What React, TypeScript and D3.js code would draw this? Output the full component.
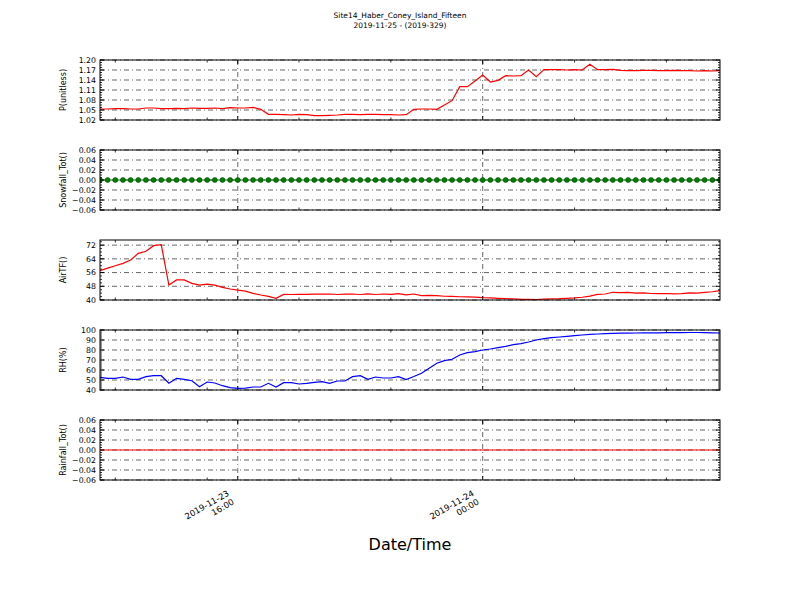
import React from 'react';
import * as d3 from 'd3';

// ---------- DATA ----------
const TITLE_LINES = ['Site14_Haber_Coney_Island_Fifteen', '2019-11-25 - (2019-329)'];
const X_LABEL = 'Date/Time';
const START_UTC = Date.UTC(2019, 10, 23, 11, 30);
const STEP_MINUTES = 15;

const pValues = [
  1.053, 1.053, 1.054, 1.054, 1.053, 1.053, 1.056, 1.056, 1.054, 1.054,
  1.055, 1.054, 1.056, 1.055, 1.055, 1.056, 1.054, 1.057, 1.056, 1.056,
  1.058, 1.052, 1.037, 1.037, 1.036, 1.035, 1.037, 1.036, 1.033, 1.033,
  1.034, 1.035, 1.037, 1.037, 1.036, 1.037, 1.037, 1.036, 1.036, 1.035,
  1.036, 1.052, 1.053, 1.053, 1.052, 1.065, 1.078, 1.120, 1.120, 1.137,
  1.155, 1.134, 1.139, 1.153, 1.152, 1.153, 1.170, 1.150, 1.171, 1.171,
  1.171, 1.170, 1.171, 1.170, 1.187, 1.171, 1.171, 1.172, 1.169, 1.168,
  1.168, 1.169, 1.169, 1.168, 1.168, 1.169, 1.168, 1.168, 1.167, 1.168,
  1.167, 1.168,
];

const snowfallValues = [
  0, 0, 0, 0, 0, 0, 0, 0, 0, 0,
  0, 0, 0, 0, 0, 0, 0, 0, 0, 0,
  0, 0, 0, 0, 0, 0, 0, 0, 0, 0,
  0, 0, 0, 0, 0, 0, 0, 0, 0, 0,
  0, 0, 0, 0, 0, 0, 0, 0, 0, 0,
  0, 0, 0, 0, 0, 0, 0, 0, 0, 0,
  0, 0, 0, 0, 0, 0, 0, 0, 0, 0,
  0, 0, 0, 0, 0, 0, 0, 0, 0, 0,
  0, 0,
];

const airValues = [
  57.1, 58.6, 60.0, 61.4, 63.3, 67.2, 68.4, 71.7, 72.3, 48.7,
  51.7, 51.7, 49.7, 48.7, 49.3, 48.7, 47.4, 46.4, 45.8, 45.2,
  43.9, 42.9, 42.1, 41.0, 43.3, 43.2, 43.3, 43.3, 43.4, 43.4,
  43.5, 43.2, 43.4, 43.5, 43.2, 43.6, 43.2, 43.5, 43.3, 43.7,
  43.0, 43.5, 42.6, 42.7, 42.5, 42.2, 42.1, 41.9, 41.8, 41.7,
  41.4, 41.2, 41.0, 40.8, 40.6, 40.4, 40.4, 40.3, 40.5, 40.7,
  40.8, 41.0, 41.2, 41.6, 42.3, 43.3, 43.5, 44.5, 44.3, 44.4,
  44.0, 44.1, 43.8, 43.7, 43.8, 43.6, 43.7, 44.1, 44.0, 44.5,
  44.8, 45.5,
];

const rhValues = [
  52.7, 51.7, 51.7, 53.0, 50.7, 50.7, 53.3, 54.3, 54.3, 46.7,
  51.7, 50.7, 49.3, 43.3, 48.0, 47.0, 44.3, 42.3, 41.7, 41.9,
  43.0, 43.0, 46.7, 43.0, 47.3, 47.3, 46.0, 46.7, 47.7, 48.3,
  46.7, 49.0, 49.0, 53.3, 54.3, 50.7, 53.0, 52.0, 52.0, 53.3,
  50.5, 53.5, 56.7, 61.7, 66.7, 69.3, 70.7, 75.0, 77.3, 78.3,
  80.0, 81.0, 82.3, 83.7, 85.3, 86.3, 88.0, 90.0, 91.3, 92.3,
  93.0, 93.7, 94.3, 95.0, 95.7, 96.0, 96.3, 96.7, 96.8, 96.9,
  97.0, 97.1, 97.1, 97.2, 97.3, 97.4, 97.4, 97.5, 97.5, 97.4,
  97.2, 97.0,
];

const rainfallValues = [
  0, 0, 0, 0, 0, 0, 0, 0, 0, 0,
  0, 0, 0, 0, 0, 0, 0, 0, 0, 0,
  0, 0, 0, 0, 0, 0, 0, 0, 0, 0,
  0, 0, 0, 0, 0, 0, 0, 0, 0, 0,
  0, 0, 0, 0, 0, 0, 0, 0, 0, 0,
  0, 0, 0, 0, 0, 0, 0, 0, 0, 0,
  0, 0, 0, 0, 0, 0, 0, 0, 0, 0,
  0, 0, 0, 0, 0, 0, 0, 0, 0, 0,
  0, 0,
];

const pTicks = [1.02, 1.05, 1.08, 1.11, 1.14, 1.17, 1.2];
const pTickLabels = ['1.02', '1.05', '1.08', '1.11', '1.14', '1.17', '1.20'];
const zeroTicks = [-0.06, -0.04, -0.02, 0, 0.02, 0.04, 0.06];
const zeroTickLabels = ['\u22120.06', '\u22120.04', '\u22120.02', '0.00', '0.02', '0.04', '0.06'];
const airTicks = [40, 48, 56, 64, 72];
const airTickLabels = ['40', '48', '56', '64', '72'];
const rhTicks = [40, 50, 60, 70, 80, 90, 100];
const rhTickLabels = ['40', '50', '60', '70', '80', '90', '100'];

const xMajorTicks = [Date.UTC(2019, 10, 23, 16, 0), Date.UTC(2019, 10, 24, 0, 0)];
const xMajorLabels = [['2019-11-23', '16:00'], ['2019-11-24', '00:00']];
const xMinorTicks = [
  Date.UTC(2019, 10, 23, 12), Date.UTC(2019, 10, 23, 15), Date.UTC(2019, 10, 23, 18),
  Date.UTC(2019, 10, 23, 21), Date.UTC(2019, 10, 24, 3), Date.UTC(2019, 10, 24, 6),
];

// ---------- LAYOUT ----------
const FONT = 'DejaVu Sans, sans-serif';
const X0 = 100;
const X1 = 720;
const PANEL_H = 60;
const GRID_DASH = '5,3,1,3';

const panels = [
  { label: 'P(unitless)', top: 60, domain: [1.02, 1.2], ticks: pTicks, labels: pTickLabels, values: pValues, color: '#ff0000', markers: false, minorDiv: 4 },
  { label: 'Snowfall_Tot()', top: 150, domain: [-0.06, 0.06], ticks: zeroTicks, labels: zeroTickLabels, values: snowfallValues, color: '#008000', markers: true, minorDiv: 4 },
  { label: 'AirTF()', top: 240, domain: [40, 75], ticks: airTicks, labels: airTickLabels, values: airValues, color: '#ff0000', markers: false, minorDiv: 4 },
  { label: 'RH(%)', top: 330, domain: [40, 100], ticks: rhTicks, labels: rhTickLabels, values: rhValues, color: '#0000ff', markers: false, minorDiv: 5 },
  { label: 'Rainfall_Tot()', top: 420, domain: [-0.06, 0.06], ticks: zeroTicks, labels: zeroTickLabels, values: rainfallValues, color: '#ff0000', markers: false, minorDiv: 4 },
];

const times = pValues.map((_, i) => new Date(START_UTC + i * STEP_MINUTES * 60000));

const x = d3.scaleUtc().domain([times[0], times[times.length - 1]]).range([X0, X1]);

function Panel({ p }: { p: typeof panels[number] }) {
  const y = d3.scaleLinear().domain(p.domain).range([p.top + PANEL_H, p.top]);
  const line = d3.line<number>().x((_, i) => x(times[i])).y((v) => y(v));
  const minor: number[] = [];
  for (let k = 0; k < p.ticks.length - 1; k++) {
    const a = p.ticks[k];
    const b = p.ticks[k + 1];
    for (let j = 1; j < p.minorDiv; j++) minor.push(a + ((b - a) * j) / p.minorDiv);
  }
  const dMax = p.domain[1];
  const last = p.ticks[p.ticks.length - 1];
  const st = (p.ticks[1] - p.ticks[0]) / p.minorDiv;
  for (let v = last + st; v <= dMax + 1e-9; v += st) minor.push(v);
  const top = p.top;
  const bot = p.top + PANEL_H;
  return (
    <g>
      <defs>
        <clipPath id={`clip-${top}`}>
          <rect x={X0} y={top} width={X1 - X0} height={PANEL_H} />
        </clipPath>
      </defs>
      {p.ticks.map((t) => (
        <line key={`gy${t}`} x1={X0} x2={X1} y1={y(t)} y2={y(t)} stroke="#000" strokeWidth={0.6} strokeDasharray={GRID_DASH} />
      ))}
      {xMajorTicks.map((t) => (
        <line key={`gx${t}`} x1={x(new Date(t))} x2={x(new Date(t))} y1={top} y2={bot} stroke="#000" strokeWidth={0.6} strokeDasharray={GRID_DASH} />
      ))}
      <g clipPath={`url(#clip-${top})`}>
        <path d={line(p.values) || ''} fill="none" stroke={p.color} strokeWidth={1.2} />
        {p.markers &&
          p.values.map((v, i) => (
            <circle key={i} cx={x(times[i])} cy={y(v)} r={2.5} fill={p.color} stroke="#003300" strokeWidth={0.5} />
          ))}
      </g>
      {p.ticks.map((t) => (
        <g key={`yt${t}`}>
          <line x1={X0} x2={X0 + 4} y1={y(t)} y2={y(t)} stroke="#000" strokeWidth={1} />
          <line x1={X1} x2={X1 - 4} y1={y(t)} y2={y(t)} stroke="#000" strokeWidth={1} />
        </g>
      ))}
      {minor.map((t, i) => (
        <g key={`ym${i}`}>
          <line x1={X0} x2={X0 + 2} y1={y(t)} y2={y(t)} stroke="#000" strokeWidth={0.8} />
          <line x1={X1} x2={X1 - 2} y1={y(t)} y2={y(t)} stroke="#000" strokeWidth={0.8} />
        </g>
      ))}
      {xMajorTicks.map((t) => (
        <g key={`xt${t}`}>
          <line x1={x(new Date(t))} x2={x(new Date(t))} y1={bot} y2={bot - 4} stroke="#000" strokeWidth={1} />
          <line x1={x(new Date(t))} x2={x(new Date(t))} y1={top} y2={top + 4} stroke="#000" strokeWidth={1} />
        </g>
      ))}
      {xMinorTicks.map((t) => (
        <g key={`xm${t}`}>
          <line x1={x(new Date(t))} x2={x(new Date(t))} y1={bot} y2={bot - 2.5} stroke="#000" strokeWidth={0.8} />
          <line x1={x(new Date(t))} x2={x(new Date(t))} y1={top} y2={top + 2.5} stroke="#000" strokeWidth={0.8} />
        </g>
      ))}
      <rect x={X0} y={top} width={X1 - X0} height={PANEL_H} fill="none" stroke="#000" strokeWidth={1} />
      {p.ticks.map((t, i) => (
        <text key={`yl${t}`} x={X0 - 4} y={y(t)} dy="0.35em" textAnchor="end" fontSize={7.8} fontFamily={FONT} fill="#000">
          {p.labels[i]}
        </text>
      ))}
      <text
        transform={`translate(66,${top + PANEL_H / 2}) rotate(-90)`}
        textAnchor="middle"
        fontSize={8}
        fontFamily={FONT}
        fill="#000"
      >
        {p.label}
      </text>
    </g>
  );
}

export default function App() {
  return (
    <svg width={800} height={600} style={{ position: 'absolute', left: 0, top: 0, background: '#fff' }}>
      <rect x={0} y={0} width={800} height={600} fill="#fff" />
      <text x={400} y={18} textAnchor="middle" fontSize={7.5} fontFamily={FONT} fill="#000">
        {TITLE_LINES[0]}
      </text>
      <text x={400} y={28} textAnchor="middle" fontSize={7.5} fontFamily={FONT} fill="#000">
        {TITLE_LINES[1]}
      </text>
      {panels.map((p) => (
        <Panel key={p.label} p={p} />
      ))}
      {xMajorTicks.map((t, i) => {
        const px = x(new Date(t));
        return (
          <g key={`xl${t}`} transform={`translate(${px - 8},${495}) rotate(-30)`}>
            <text x={0} y={0} textAnchor="end" fontSize={8.5} fontFamily={FONT} fill="#000">
              {xMajorLabels[i][0]}
            </text>
            <text x={0} y={10} textAnchor="end" fontSize={8.5} fontFamily={FONT} fill="#000">
              {xMajorLabels[i][1]}
            </text>
          </g>
        );
      })}
      <text x={410} y={550} textAnchor="middle" fontSize={16} fontFamily={FONT} fill="#000">
        {X_LABEL}
      </text>
    </svg>
  );
}
